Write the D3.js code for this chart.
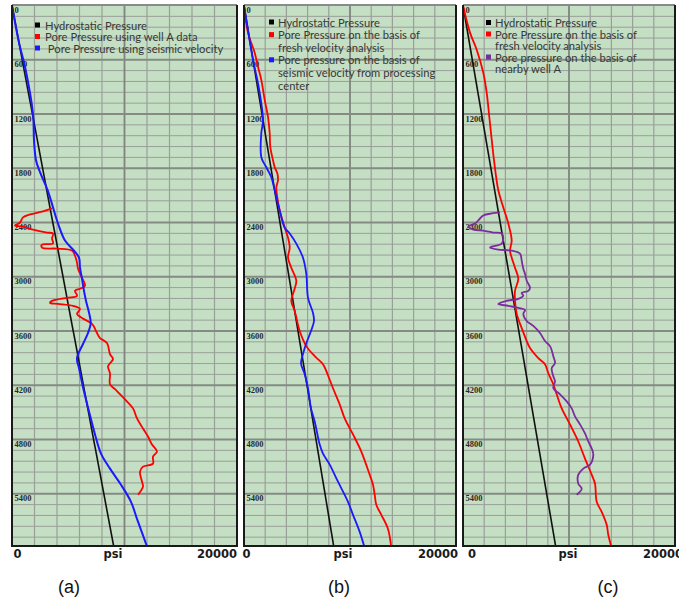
<!DOCTYPE html>
<html><head><meta charset="utf-8">
<script src="https://cdn.jsdelivr.net/npm/d3@7/dist/d3.min.js"></script>
<style>body{margin:0;background:#fff} svg{display:block}</style>
</head><body><svg id="chart" width="679" height="602"></svg>
<script>
// ---------- DATA ----------
const depthTicks = [0, 600, 1200, 1800, 2400, 3000, 3600, 4200, 4800, 5400];
const xAxisLabels = ["0", "psi", "20000"];
const panelNames = ["(a)", "(b)", "(c)"];

const legendA = [
  {color: "#000000", lines: ["Hydrostatic Pressure"]},
  {color: "#ff0000", lines: ["Pore Pressure using well A data"]},
  {color: "#1a1aff", lines: [" Pore Pressure using seismic velocity"]}
];
const legendB = [
  {color: "#000000", lines: ["Hydrostatic Pressure"]},
  {color: "#ff0000", lines: ["Pore Pressure on the basis of", "fresh velocity analysis"]},
  {color: "#1a1aff", lines: ["Pore pressure on the basis of", "seismic velocity from processing", "center"]}
];
const legendC = [
  {color: "#000000", lines: ["Hydrostatic Pressure"]},
  {color: "#ff0000", lines: ["Pore Pressure on the basis of", "fresh velocity analysis"]},
  {color: "#7030a0", lines: ["Pore pressure on the basis of", "nearby well A"]}
];

// series: [depth, psi]
const hydroA = [[0, 0], [6000, 9070]];
const hydroB = [[0, 0], [6000, 8490]];
const hydroC = [[0, 0], [6000, 8770]];

const seismicA = [[0,0],[411,622],[678,1156],[1200,1867],[1489,1956],[1711,2133],[1844,2489],[2044,3173],
  [2411,4089],[2600,4711],[2711,5511],[2789,5956],[2900,6044],[3022,6222],[3156,6400],[3267,6578],
  [3411,6871],[3511,6996],[3622,6756],[3744,6311],[3900,5778],[4011,5956],[4222,6311],[4489,6844],
  [4744,7378],[4956,7911],[5122,8711],[5300,9689],[5489,10578],[5678,11111],[6000,12050]];

const wellA = [[2244,3556],[2278,2756],[2311,1600],[2344,978],[2400,711],[2433,267],[2444,889],[2478,1867],
  [2511,3111],[2522,3644],[2578,3556],[2633,3644],[2644,2667],[2678,2667],[2689,4000],[2711,5333],
  [2767,5600],[2844,5778],[2911,5867],[3011,6222],[3100,6489],[3133,6044],[3156,5600],[3211,5778],
  [3233,4889],[3267,3556],[3289,3378],[3300,4089],[3322,5422],[3356,6044],[3411,5778],[3456,6222],
  [3522,7111],[3622,7556],[3678,7822],[3733,8444],[3856,8711],[3911,8978],[3989,8533],[4067,8711],
  [4189,8711],[4244,9156],[4356,10044],[4456,10756],[4567,11111],[4678,11644],[4767,12089],[4856,12444],
  [4933,12889],[4989,12533],[5067,12533],[5100,11644],[5156,11378],[5267,11556],[5322,11644],[5411,11200]];

const processingB = [[0,0],[600,849],[900,1387],[1267,1792],[1411,1632],[1678,1632],[1789,2104],[1900,2575],
  [2044,2896],[2267,3368],[2456,3840],[2522,4311],[2633,4934],[2789,5566],[2967,5877],[3233,6038],
  [3400,6509],[3489,6604],[3600,6321],[3744,5849],[3856,5566],[3956,5377],[4078,5726],[4233,6038],
  [4456,6321],[4600,6670],[4856,7142],[4956,7453],[5078,8085],[5267,8868],[5489,9811],[5633,10283],
  [5822,10915],[6000,11387]];

const freshB = [[0,0],[300,377],[522,1009],[678,1321],[822,1632],[1044,1953],[1233,2264],[1411,2425],
  [1567,2481],[1711,2736],[1789,2896],[1856,3142],[1933,3208],[2011,3047],[2122,3142],[2267,3368],
  [2456,3840],[2567,4151],[2678,4311],[2789,4151],[2900,4462],[3044,4934],[3156,4717],[3267,4462],
  [3378,4783],[3600,5255],[3767,5877],[3878,6670],[3967,7453],[4044,7764],[4233,8396],[4411,9028],
  [4567,9500],[4744,10283],[4933,11066],[5189,11858],[5300,12170],[5411,12330],[5522,12481],
  [5633,12953],[5789,13585],[6000,13896]];

const freshC = [[0,0],[300,660],[489,1292],[744,1915],[967,2236],[1233,2481],[1378,2613],[1711,2925],
  [2044,3330],[2233,3802],[2411,4274],[2600,4594],[2711,4434],[2789,4594],[2900,4906],[3022,5217],
  [3156,4906],[3267,4906],[3411,5066],[3567,5538],[3711,6010],[3789,6321],[3900,7104],[3967,7736],
  [4067,8047],[4189,8519],[4300,8840],[4456,9311],[4633,10094],[4822,10877],[5011,11509],[5189,12142],
  [5289,12453],[5489,12613],[5600,13085],[5744,13557],[5856,13708],[6000,14028]];

const nearbyWellC = [[2289,3491],[2300,2708],[2322,1915],[2356,1604],[2411,1132],[2444,500],[2478,972],
  [2489,1915],[2511,2859],[2522,3651],[2578,3802],[2633,3651],[2667,2708],[2678,2547],[2700,3330],
  [2711,4594],[2744,5377],[2822,5538],[2911,5689],[2967,5849],[3044,6010],[3122,6321],[3156,6161],
  [3178,5538],[3211,5689],[3244,5217],[3267,4123],[3300,3330],[3322,4274],[3344,5217],[3367,5849],
  [3411,5689],[3489,6010],[3544,6632],[3622,7264],[3711,7736],[3767,8208],[3878,8519],[3956,8679],
  [4011,8368],[4100,8519],[4156,8679],[4233,8519],[4300,9151],[4378,9783],[4456,10255],[4544,10566],
  [4633,11038],[4733,11509],[4822,11821],[4900,12142],[4967,12292],[5078,11981],[5122,11349],
  [5189,10877],[5289,10877],[5344,11198],[5411,10726]];

// ---------- LAYOUT ----------
const svg = d3.select("#chart");
const plotTop = 5, plotBottom = 546;
const y = d3.scaleLinear().domain([0, 6000]).range([5.5, 548]);

const panels = [
  {left: 12, right: 237, name: panelNames[0], legend: legendA, legX: 23, legTX: 33, legY: 25.5, legDY: 11.5,
   lblX: [5.5, 101, 0], nameX: 69,
   series: [{d: hydroA, c: "#111", w: 1.6}, {d: wellA, c: "#ff0000", w: 1.8}, {d: seismicA, c: "#1a1aff", w: 2}]},
  {left: 244, right: 456, name: panelNames[1], legend: legendB, legX: 25, legTX: 34, legY: 22.5, legDY: 12.6,
   lblX: [2.5, 99, 2], nameX: 339,
   series: [{d: hydroB, c: "#111", w: 1.6}, {d: freshB, c: "#ff0000", w: 1.8}, {d: processingB, c: "#1a1aff", w: 1.8}]},
  {left: 463, right: 675, name: panelNames[2], legend: legendC, legX: 23, legTX: 32, legY: 23, legDY: 11.5,
   lblX: [9, 105, 20], nameX: 608,
   series: [{d: hydroC, c: "#111", w: 1.6}, {d: freshC, c: "#ff0000", w: 1.8}, {d: nearbyWellC, c: "#7b2d9e", w: 1.8}]}
];

const minorDepths = d3.range(0, 6000, 120);
const defs = svg.append("defs");

panels.forEach((p, i) => {
  const x = d3.scaleLinear().domain([0, 20000]).range([p.left, p.right]);
  const g = svg.append("g");
  defs.append("clipPath").attr("id", "clip" + i)
    .append("rect").attr("x", p.left).attr("y", plotTop).attr("width", p.right - p.left).attr("height", plotBottom - plotTop);

  g.append("rect").attr("x", p.left).attr("y", plotTop).attr("width", p.right - p.left).attr("height", plotBottom - plotTop)
    .attr("fill", "#c4dfc3");

  g.selectAll(".hmin").data(minorDepths.filter(d => d % 600 !== 0)).join("line")
    .attr("x1", p.left).attr("x2", p.right).attr("y1", d => y(d)).attr("y2", d => y(d))
    .attr("stroke", "#9a9f9a").attr("stroke-width", 1);
  g.selectAll(".vg").data(d3.range(2000, 20000, 2000)).join("line")
    .attr("x1", d => x(d)).attr("x2", d => x(d)).attr("y1", plotTop).attr("y2", plotBottom)
    .attr("stroke", d => d === 10000 ? "#7f847f" : "#9a9f9a").attr("stroke-width", d => d === 10000 ? 1.8 : 1.2);
  g.selectAll(".hmaj").data(depthTicks.filter(d => d > 0)).join("line")
    .attr("x1", p.left).attr("x2", p.right).attr("y1", d => y(d)).attr("y2", d => y(d))
    .attr("stroke", "#858a85").attr("stroke-width", 1.8);

  g.selectAll(".dl").data(depthTicks).join("text")
    .attr("x", p.left + 2.5).attr("y", d => d === 0 ? y(d) + 7 : y(d) + 7.5)
    .attr("font-family", "Liberation Serif, serif").attr("font-weight", "bold").attr("font-size", 8.5)
    .attr("fill", "#2a2a2a").text(d => d);

  const line = d3.line().x(d => x(d[1])).y(d => y(d[0])).curve(d3.curveCatmullRom.alpha(0.5));
  const sg = g.append("g").attr("clip-path", `url(#clip${i})`);
  p.series.forEach(s => {
    sg.append("path").attr("d", line(s.d)).attr("fill", "none").attr("stroke", s.c)
      .attr("stroke-width", s.w).attr("stroke-linejoin", "round");
  });

  let ly = p.legY;
  p.legend.forEach(item => {
    g.append("rect").attr("x", p.left + p.legX).attr("y", ly - 3).attr("width", 5).attr("height", 5).attr("fill", item.color);
    item.lines.forEach(t => {
      g.append("text").attr("x", p.left + p.legTX).attr("y", ly + 4).attr("font-family", "Lato, sans-serif")
        .attr("font-size", 11.2).attr("fill", "#383838").style("white-space", "pre").text(t);
      ly += p.legDY;
    });
  });

  g.append("line").attr("x1", p.left).attr("x2", p.right).attr("y1", plotTop).attr("y2", plotTop).attr("stroke", "#8a8a8a").attr("stroke-width", 2);
  g.append("path").attr("d", `M${p.left},${plotTop}V${plotBottom}H${p.right}V${plotTop}`).attr("fill", "none")
    .attr("stroke", "#1a1a1a").attr("stroke-width", 2);

  const xl = [p.left + p.lblX[0], p.left + p.lblX[1], i === 2 ? 643 : p.right + p.lblX[2]];
  const anchors = ["middle", "middle", i === 2 ? "start" : "end"];
  xAxisLabels.forEach((t, k) => {
    g.append("text").attr("x", xl[k]).attr("y", 558).attr("text-anchor", anchors[k])
      .attr("font-family", "DejaVu Sans, sans-serif").attr("font-weight", "bold").attr("font-size", 11.5)
      .attr("fill", "#1a1a1a").text(t);
  });

  g.append("text").attr("x", p.nameX).attr("y", 593).attr("text-anchor", "middle")
    .attr("font-family", "Liberation Sans, Arial, sans-serif").attr("font-size", 18).attr("fill", "#111").text(p.name);
});
</script>
</body></html>
